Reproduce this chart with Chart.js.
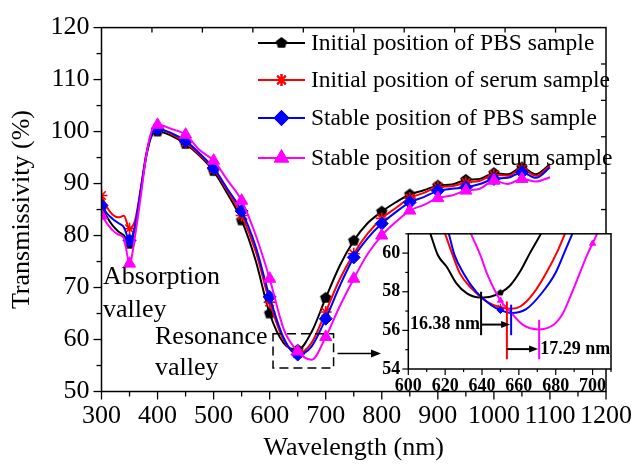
<!DOCTYPE html>
<html>
<head>
<meta charset="utf-8">
<script src="https://cdn.jsdelivr.net/npm/chart.js@4.4.1/dist/chart.umd.min.js"></script>
<style>
  html, body { margin: 0; padding: 0; background: #fff; }
  #wrap { position: relative; width: 641px; height: 465px; overflow: hidden; }
  #main { position: absolute; left: 0; top: 0; }
  #inset { position: absolute; left: 370px; top: 215px; }
</style>
</head>
<body>
<div id="wrap">
  <canvas id="main" width="641" height="465"></canvas>
  <canvas id="inset" width="245" height="190"></canvas>
</div>
<script>
// ---- Transmission spectra (wavelength in nm, transmissivity in %) ----
const wavelength = [300, 310, 320, 330, 340, 350, 360, 370, 380, 390, 400, 425, 450, 475, 500, 525, 550, 575,
  600, 625, 650, 675, 700, 725, 750, 775, 800, 825, 850, 875, 900, 925, 950, 975, 1000, 1025, 1050, 1075, 1100];

const initialPBS = [85.4, 83.5, 81.9, 80.8, 80.0, 78.4, 81.5, 88.5, 95.3, 99.3, 100.0, 99.2, 97.6, 95.35, 92.4, 88.0, 82.9, 75.2,
  65.0, 59.3, 58.0, 61.5, 68.0, 74.2, 79.0, 82.4, 84.6, 86.4, 87.9, 88.7, 89.6, 89.8, 90.7, 90.9, 92.0, 91.8, 93.1, 91.8, 93.7];

const initialSerum = [87.7, 85.4, 84.0, 83.5, 83.8, 81.3, 83.0, 89.0, 95.8, 99.8, 100.6, 99.5, 97.9, 95.55, 92.8, 88.5, 83.85, 77.0,
  67.2, 59.9, 57.3, 59.4, 65.3, 71.6, 76.5, 80.4, 83.3, 85.3, 87.2, 88.2, 89.3, 89.5, 90.2, 90.55, 91.65, 91.5, 92.8, 91.5, 93.4];

const stablePBS = [85.8, 84.2, 83.2, 82.4, 81.6, 79.05, 82.0, 88.8, 95.6, 99.7, 100.5, 99.7, 98.2, 95.8, 93.0, 88.9, 84.7, 77.9,
  68.2, 60.3, 57.1, 58.7, 64.0, 70.3, 75.8, 79.5, 82.3, 84.5, 86.4, 87.4, 88.6, 89.0, 89.3, 89.9, 90.9, 91.1, 92.15, 91.1, 93.1];

const stableSerum = [83.85, 82.3, 81.0, 80.2, 79.5, 74.6, 80.0, 87.5, 95.5, 100.3, 101.3, 100.5, 99.4, 96.45, 94.4, 90.6, 86.7, 80.1,
  71.7, 62.0, 57.7, 56.1, 60.5, 66.4, 71.7, 76.5, 80.0, 82.6, 84.8, 85.9, 87.2, 87.7, 88.65, 89.0, 90.55, 89.9, 90.9, 90.4, 91.2];

const seriesNames = [
  'Initial position of PBS sample',
  'Initial position of serum sample',
  'Stable position of PBS sample',
  'Stable position of serum sample'
];

// ---- Resonance valley, enlarged ----
const zoomPBSInitNm = [612, 616, 621, 626, 632, 639, 645, 650, 655, 661, 666, 672];
const zoomPBSInitT = [61.0, 59.9, 59.27, 58.45, 57.9, 57.7, 57.75, 57.95, 58.3, 59.1, 60.0, 61.0];
const zoomSerumInitNm = [620, 624, 628, 634, 643, 650, 656, 661, 668, 675, 681, 685];
const zoomSerumInitT = [61.0, 59.92, 58.95, 58.2, 57.47, 57.2, 57.12, 57.25, 57.93, 59.0, 60.1, 61.0];
const zoomPBSStableNm = [622, 625, 630, 637, 645, 650, 656, 664, 673, 680, 685, 689];
const zoomPBSStableT = [61.0, 59.92, 58.95, 57.98, 57.3, 57.05, 56.9, 57.1, 58.0, 59.0, 60.1, 61.0];
const zoomSerumStableNm = [634, 639, 643, 650, 655, 662, 671, 679, 684, 689, 693, 697, 700, 702.5];
const zoomSerumStableT = [61.0, 59.92, 58.87, 57.55, 57.0, 56.3, 56.05, 56.3, 56.9, 58.0, 58.95, 59.9, 60.5, 61.0];

// valley positions and shifts
const valleyPBSInit = 639.5, valleyPBSStable = 655.8;
const valleySerumInit = 653.5, valleySerumStable = 671.0;
const shiftPBS = '16.38 nm';
const shiftSerum = '17.29 nm';

const xTickValues = [300, 400, 500, 600, 700, 800, 900, 1000, 1100, 1200];
const yTickValues = [50, 60, 70, 80, 90, 100, 110, 120];
const zoomXTickValues = [600, 620, 640, 660, 680, 700];
const zoomYTickValues = [54, 56, 58, 60];

const SERIF = '"Liberation Serif", "Times New Roman", serif';
const colors = ['#000000', '#ff0000', '#0000ff', '#ff00ff'];

function pentagonImage(r, color) {
  const c = document.createElement('canvas');
  const s = Math.ceil(r * 2 + 2);
  c.width = s; c.height = s;
  const g = c.getContext('2d');
  g.fillStyle = color;
  g.beginPath();
  for (let i = 0; i < 5; i++) {
    const a = -Math.PI / 2 + i * 2 * Math.PI / 5;
    const x = s / 2 + r * Math.cos(a), y = s / 2 + r * Math.sin(a);
    if (i === 0) g.moveTo(x, y); else g.lineTo(x, y);
  }
  g.closePath();
  g.fill();
  return c;
}
const pentagonBig = pentagonImage(6, '#000');
const pentagonSmall = pentagonImage(3.5, '#000');

const pointStyles = [pentagonBig, 'star', 'rectRot', 'triangle'];
const pointSizes = [6, 6, 6.5, 7];
const markerAt = wavelength.map(w => w % 50 === 0 && w <= 1050);

function toXY(xs, ys) { return xs.map((x, i) => ({ x: x, y: ys[i] })); }
const plainLabel = v => String(v);

const mainSeries = [initialPBS, initialSerum, stablePBS, stableSerum];
const mainDatasets = mainSeries.map((vals, k) => ({
  label: seriesNames[k],
  data: toXY(wavelength, vals),
  borderColor: colors[k],
  backgroundColor: colors[k],
  borderWidth: 2,
  cubicInterpolationMode: 'monotone',
  pointStyle: pointStyles[k],
  pointRadius: markerAt.map(m => m ? pointSizes[k] : 0),
  pointBackgroundColor: colors[k],
  pointBorderColor: colors[k],
  pointBorderWidth: k === 1 ? 1.6 : 1,
  order: 4 - k
}));

function arrowHead(ctx, x, y, dir, len, half) {
  ctx.beginPath();
  ctx.moveTo(x, y);
  ctx.lineTo(x - dir * len, y - half);
  ctx.lineTo(x - dir * len, y + half);
  ctx.closePath();
  ctx.fill();
}

function drawMarker(ctx, k, x, y) {
  const style = pointStyles[k];
  if (typeof style === 'object') {
    ctx.drawImage(style, x - style.width / 2, y - style.height / 2);
    return;
  }
  Chart.helpers.drawPoint(ctx, {
    pointStyle: style, radius: pointSizes[k], rotation: 0, borderWidth: k === 1 ? 1.6 : 1
  }, x, y);
  ctx.fill();
  ctx.stroke();
}

const mainDecor = {
  id: 'mainDecor',
  afterDraw(chart) {
    const ctx = chart.ctx;
    const a = chart.chartArea;
    const xs = chart.scales.x, ys = chart.scales.y;
    ctx.save();
    ctx.strokeStyle = '#000';
    ctx.fillStyle = '#000';
    ctx.lineWidth = 1.5;
    ctx.strokeRect(a.left, a.top, a.right - a.left, a.bottom - a.top);

    // left ticks (outward)
    ctx.lineWidth = 1.3;
    for (let v = 50; v <= 120; v += 5) {
      const y = ys.getPixelForValue(v);
      const len = v % 10 === 0 ? 8 : 5;
      ctx.beginPath(); ctx.moveTo(a.left - len, y); ctx.lineTo(a.left, y); ctx.stroke();
    }
    // bottom ticks (outward)
    for (let v = 300; v <= 1200; v += 50) {
      const x = xs.getPixelForValue(v);
      const len = v % 100 === 0 ? 8 : 5;
      ctx.beginPath(); ctx.moveTo(x, a.bottom); ctx.lineTo(x, a.bottom + len); ctx.stroke();
    }
    // top and right ticks (inward)
    for (let i = 1; i < 10; i++) {
      const x = a.left + (a.right - a.left) * i / 10;
      ctx.beginPath(); ctx.moveTo(x, a.top); ctx.lineTo(x, a.top + 5); ctx.stroke();
      const y = a.top + (a.bottom - a.top) * i / 10;
      ctx.beginPath(); ctx.moveTo(a.right, y); ctx.lineTo(a.right - 5, y); ctx.stroke();
    }

    // axis titles
    ctx.font = '26px ' + SERIF;
    ctx.textAlign = 'center';
    ctx.textBaseline = 'middle';
    ctx.fillText('Wavelength (nm)', (a.left + a.right) / 2, 448);
    ctx.save();
    ctx.translate(22, (a.top + a.bottom) / 2);
    ctx.rotate(-Math.PI / 2);
    ctx.fillText('Transmissivity (%)', 0, 0);
    ctx.restore();

    // valley labels
    ctx.font = '26px ' + SERIF;
    ctx.textAlign = 'left';
    ctx.fillText('Absorption', 103, 277);
    ctx.fillText('valley', 103, 310);
    ctx.fillText('Resonance', 155, 337);
    ctx.fillText('valley', 155, 368);

    // dashed frame around the resonance valley and pointer to the enlarged view
    const rx0 = xs.getPixelForValue(606), rx1 = xs.getPixelForValue(714);
    const ry0 = ys.getPixelForValue(61.1), ry1 = ys.getPixelForValue(54.5);
    ctx.lineWidth = 1.5;
    ctx.setLineDash([9, 5]);
    ctx.strokeRect(rx0, ry0, rx1 - rx0, ry1 - ry0);
    ctx.setLineDash([]);
    const ay = ys.getPixelForValue(57.3);
    ctx.beginPath(); ctx.moveTo(rx1 + 4, ay); ctx.lineTo(372, ay); ctx.stroke();
    arrowHead(ctx, 381, ay, 1, 10, 4);

    // legend
    const rows = [43, 80, 118, 158];
    ctx.font = '23.5px ' + SERIF;
    ctx.textBaseline = 'middle';
    rows.forEach((ry, k) => {
      ctx.strokeStyle = colors[k];
      ctx.fillStyle = colors[k];
      ctx.lineWidth = 2;
      ctx.beginPath(); ctx.moveTo(258, ry); ctx.lineTo(305, ry); ctx.stroke();
      drawMarker(ctx, k, 281.5, ry);
      ctx.fillStyle = '#000';
      ctx.fillText(seriesNames[k], 311, ry + 1);
    });
    ctx.restore();
  }
};

new Chart(document.getElementById('main'), {
  type: 'line',
  data: { datasets: mainDatasets },
  options: {
    responsive: false,
    animation: false,
    devicePixelRatio: 1,
    layout: { padding: { left: 0, top: 26.5, right: 26, bottom: 0 } },
    plugins: { legend: { display: false }, tooltip: { enabled: false } },
    scales: {
      x: {
        type: 'linear', min: 300, max: 1200,
        afterFit: s => { s.height = 73.5; },
        afterBuildTicks: s => { s.ticks = xTickValues.map(v => ({ value: v })); },
        grid: { display: false, drawTicks: false },
        border: { display: false },
        ticks: { color: '#000', font: { family: SERIF, size: 26 }, padding: 9, maxRotation: 0, autoSkip: false, callback: plainLabel }
      },
      y: {
        type: 'linear', min: 50, max: 120,
        afterFit: s => { s.width = 101.5; },
        afterBuildTicks: s => { s.ticks = yTickValues.map(v => ({ value: v })); },
        grid: { display: false, drawTicks: false },
        border: { display: false },
        ticks: { color: '#000', font: { family: SERIF, size: 26 }, padding: 12, callback: plainLabel }
      }
    }
  },
  plugins: [mainDecor]
});

// ---- enlarged resonance valley ----
const zoomSeries = [
  [zoomPBSInitNm, zoomPBSInitT],
  [zoomSerumInitNm, zoomSerumInitT],
  [zoomPBSStableNm, zoomPBSStableT],
  [zoomSerumStableNm, zoomSerumStableT]
];
const zoomStyles = [pentagonSmall, 'star', 'rectRot', 'triangle'];
const zoomDatasets = zoomSeries.map((pair, k) => ({
  label: seriesNames[k],
  data: toXY(pair[0], pair[1]),
  borderColor: colors[k],
  backgroundColor: colors[k],
  borderWidth: 2,
  cubicInterpolationMode: 'monotone',
  pointStyle: zoomStyles[k],
  pointRadius: pair[0].map(w => (w === 650 || w === 700) ? 3.5 : 0),
  pointBackgroundColor: colors[k],
  pointBorderColor: colors[k],
  pointBorderWidth: 1,
  order: 4 - k
}));

const insetDecor = {
  id: 'insetDecor',
  beforeDraw(chart) {
    const a = chart.chartArea, ctx = chart.ctx;
    ctx.save();
    ctx.fillStyle = '#fff';
    ctx.fillRect(a.left, a.top, a.right - a.left, a.bottom - a.top);
    ctx.restore();
  },
  afterDraw(chart) {
    const ctx = chart.ctx;
    const a = chart.chartArea;
    const xs = chart.scales.x, ys = chart.scales.y;
    ctx.save();
    ctx.strokeStyle = '#000';
    ctx.fillStyle = '#000';
    ctx.lineWidth = 1.5;
    ctx.strokeRect(a.left, a.top, a.right - a.left, a.bottom - a.top);
    ctx.lineWidth = 1.2;
    for (let v = 54; v <= 61; v += 1) {
      const y = ys.getPixelForValue(v);
      const len = v % 2 === 0 ? 6 : 3;
      ctx.beginPath(); ctx.moveTo(a.left - len, y); ctx.lineTo(a.left, y); ctx.stroke();
    }
    for (let v = 600; v <= 710; v += 10) {
      const x = xs.getPixelForValue(v);
      const len = v % 20 === 0 ? 6 : 3;
      ctx.beginPath(); ctx.moveTo(x, a.bottom); ctx.lineTo(x, a.bottom + len); ctx.stroke();
    }

    // valley markers
    const vline = (x, y0, y1, color) => {
      ctx.strokeStyle = color; ctx.lineWidth = 2;
      ctx.beginPath();
      ctx.moveTo(xs.getPixelForValue(x), ys.getPixelForValue(y0));
      ctx.lineTo(xs.getPixelForValue(x), ys.getPixelForValue(y1));
      ctx.stroke();
    };
    vline(valleyPBSInit, 58.0, 55.75, colors[0]);
    vline(valleySerumInit, 57.5, 54.5, colors[1]);
    vline(valleyPBSStable, 57.33, 55.75, colors[2]);
    vline(valleySerumStable, 56.55, 54.5, colors[3]);

    // shift arrows
    ctx.strokeStyle = '#000'; ctx.fillStyle = '#000'; ctx.lineWidth = 2;
    const arrow = (x0, x1, yv) => {
      const px0 = xs.getPixelForValue(x0), px1 = xs.getPixelForValue(x1), py = ys.getPixelForValue(yv);
      ctx.beginPath(); ctx.moveTo(px0, py); ctx.lineTo(px1 - 8, py); ctx.stroke();
      arrowHead(ctx, px1 - 1, py, 1, 9, 3.5);
    };
    arrow(valleyPBSInit, valleyPBSStable, 56.3);
    arrow(valleySerumInit, valleySerumStable, 55.03);

    ctx.font = 'bold 18px ' + SERIF;
    ctx.textBaseline = 'middle';
    ctx.textAlign = 'right';
    ctx.fillText(shiftPBS, xs.getPixelForValue(valleyPBSInit) - 1, ys.getPixelForValue(56.3));
    ctx.textAlign = 'left';
    ctx.fillText(shiftSerum, xs.getPixelForValue(valleySerumStable) + 1, ys.getPixelForValue(55.03));
    ctx.restore();
  }
};

new Chart(document.getElementById('inset'), {
  type: 'line',
  data: { datasets: zoomDatasets },
  options: {
    responsive: false,
    animation: false,
    devicePixelRatio: 1,
    layout: { padding: { left: 0, top: 9.3, right: 4, bottom: 0 } },
    plugins: { legend: { display: false }, tooltip: { enabled: false } },
    scales: {
      x: {
        type: 'linear', min: 600, max: 710,
        afterFit: s => { s.height = 36; },
        afterBuildTicks: s => { s.ticks = zoomXTickValues.map(v => ({ value: v })); },
        grid: { display: false, drawTicks: false },
        border: { display: false },
        ticks: { color: '#000', font: { family: SERIF, size: 18, weight: 'bold' }, padding: 7, maxRotation: 0, autoSkip: false, callback: plainLabel }
      },
      y: {
        type: 'linear', min: 54, max: 61,
        afterFit: s => { s.width = 38.3; },
        afterBuildTicks: s => { s.ticks = zoomYTickValues.map(v => ({ value: v })); },
        grid: { display: false, drawTicks: false },
        border: { display: false },
        ticks: { color: '#000', font: { family: SERIF, size: 18, weight: 'bold' }, padding: 8, callback: plainLabel }
      }
    }
  },
  plugins: [insetDecor]
});
</script>
</body>
</html>
